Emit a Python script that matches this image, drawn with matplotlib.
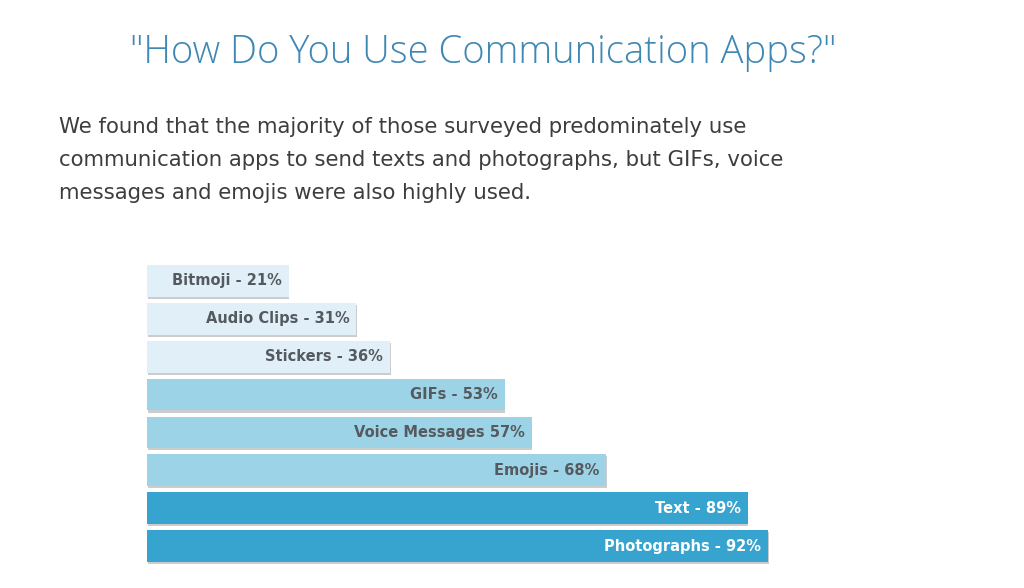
import matplotlib
matplotlib.use("Agg")
import matplotlib.pyplot as plt
import matplotlib.patheffects as pe

# Survey results (top to bottom as shown)
categories = ["Bitmoji", "Audio Clips", "Stickers", "GIFs", "Voice Messages",
              "Emojis", "Text", "Photographs"]
percents = [21, 31, 36, 53, 57, 68, 89, 92]
labels = ["Bitmoji - 21%", "Audio Clips - 31%", "Stickers - 36%", "GIFs - 53%",
          "Voice Messages 57%", "Emojis - 68%", "Text - 89%", "Photographs - 92%"]
tiers = ["low", "low", "low", "mid", "mid", "mid", "high", "high"]

tier_colors = {"low": "#e1f0f8", "mid": "#9dd3e6", "high": "#37a3cf"}
tier_text = {"low": "#555a60", "mid": "#555a60", "high": "#ffffff"}

title = '"How Do You Use Communication Apps?"'
intro_lines = ["We found that the majority of those surveyed predominately use",
               "communication apps to send texts and photographs, but GIFs, voice",
               "messages and emojis were also highly used."]

plt.rcParams["font.family"] = ["DejaVu Sans"]

W, H = 1024, 588
fig = plt.figure(figsize=(W / 100, H / 100), dpi=100)
fig.patch.set_facecolor("white")

fig.text(483 / W, 1 - 53 / H, title, ha="center", va="center",
         fontsize=27.5, color="#3f88b4", family=["Open Sans", "DejaVu Sans"],
         fontweight="light")
for i, line in enumerate(intro_lines):
    fig.text(59 / W, 1 - (127 + 33 * i) / H, line, ha="left", va="center",
             fontsize=15.3, color="#3d3d3d")

ax = fig.add_axes([147 / W, 23 / H, 675 / W, 303 / H])
ypos = list(range(len(categories)))
colors = [tier_colors[t] for t in tiers]
bars = ax.barh(ypos, percents, height=0.84, color=colors, edgecolor="none")
for b in bars:
    b.set_path_effects([pe.SimplePatchShadow(offset=(0.5, -1.5), shadow_rgbFace="#9a9a9a",
                                             alpha=0.5), pe.Normal()])

for y, v, lab, t in zip(ypos, percents, labels, tiers):
    ax.text(v - 1.0, y, lab, ha="right", va="center", fontsize=10.5,
            fontweight="semibold", color=tier_text[t])

ax.set_xlim(0, 100)
ax.set_ylim(len(categories) - 0.5, -0.5)
ax.axis("off")

fig.savefig("out.png", dpi=100)
